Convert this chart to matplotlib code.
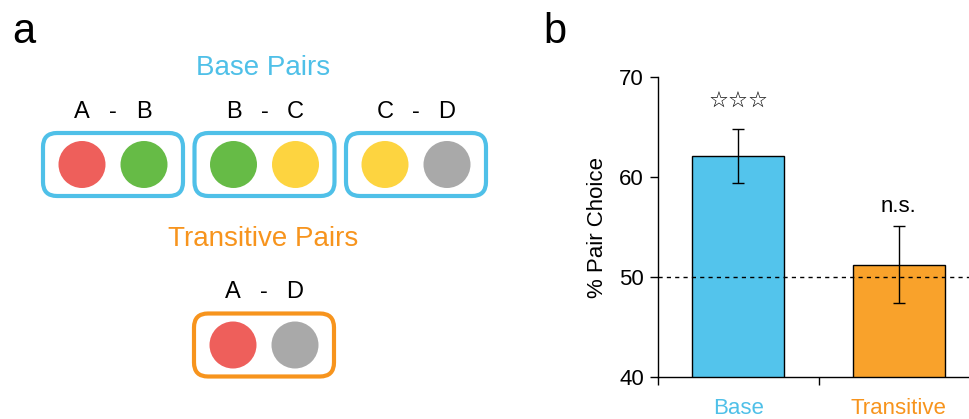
import matplotlib
matplotlib.use("Agg")
import matplotlib.pyplot as plt
from matplotlib.patches import Circle, FancyBboxPatch

plt.rcParams["font.family"] = ["Liberation Sans", "DejaVu Sans"]

# ---- data ----
categories = ["Base", "Transitive"]
means = [62.1, 51.2]
errors = [2.7, 3.85]
annotations = ["\u2606\u2606\u2606", "n.s."]
chance = 50
yticks = [40, 50, 60, 70]

base_pairs = [("A", "B"), ("B", "C"), ("C", "D")]
transitive_pairs = [("A", "D")]
item_colors = {"A": "#EE5F5B", "B": "#66BB46", "C": "#FDD440", "D": "#A9A9A9"}

BLUE = "#4FC0E8"
ORANGE = "#F7941D"
BAR_COLORS = ["#53C4EC", "#F9A22B"]
LABEL_COLORS = [BLUE, ORANGE]

W, H = 969, 419
fig = plt.figure(figsize=(W / 100, H / 100), dpi=100)

# ---- panel a (pixel coordinates) ----
axa = fig.add_axes([0, 0, 1, 1])
axa.set_xlim(0, W)
axa.set_ylim(H, 0)
axa.axis("off")

fig.text(12 / W, 1 - 32 / H, "a", fontsize=30, va="center", ha="left")
fig.text(543 / W, 1 - 32 / H, "b", fontsize=30, va="center", ha="left")

def draw_pair(ax, cx, cy, pair, edge):
    bw, bh = 140, 63
    box = FancyBboxPatch((cx - bw / 2 + 8, cy - bh / 2 + 8), bw - 16, bh - 16,
                         boxstyle="round,pad=8,rounding_size=14",
                         fc="none", ec=edge, lw=3)
    ax.add_patch(box)
    for i, item in enumerate(pair):
        x = cx - 31 + 62 * i
        ax.add_patch(Circle((x, cy), 23.5, fc=item_colors[item], ec="none"))
        ax.text(x, cy - 53, item, fontsize=17, ha="center", va="center")
    ax.text(cx, cy - 53, "-", fontsize=17, ha="center", va="center")

axa.text(263, 68, "Base Pairs", color=BLUE, fontsize=20, ha="center",
         va="center")
for k, p in enumerate(base_pairs):
    draw_pair(axa, 113 + 151.5 * k, 164.5, p, BLUE)
axa.text(263, 239, "Transitive Pairs", color=ORANGE, fontsize=20,
         ha="center", va="center")
for k, p in enumerate(transitive_pairs):
    draw_pair(axa, 264, 345, p, ORANGE)

# ---- panel b ----
left, right, top, bottom = 658, 969, 77, 377
axb = fig.add_axes([left / W, 1 - bottom / H, (right - left) / W, (bottom - top) / H])
x = list(range(len(categories)))
axb.bar(x, means, width=0.575, color=BAR_COLORS, edgecolor="black", lw=1,
        zorder=2)
axb.errorbar(x, means, yerr=errors, fmt="none", ecolor="black", elinewidth=1,
             capsize=4, capthick=1, zorder=3)
axb.axhline(chance, color="black", lw=1, ls=(0, (3, 3)), zorder=4)
axb.set_xlim(-0.5, (right - 739) / 160)
axb.set_ylim(yticks[0], yticks[-1])
axb.set_yticks(yticks)
axb.set_yticklabels([str(t) for t in yticks], fontsize=16)
axb.set_xticks([-0.5, 0.5])
axb.set_xticklabels([])
axb.set_xticks(x, minor=True)
axb.set_xticklabels(categories, minor=True, fontsize=16)
for lbl, c in zip(axb.get_xticklabels(minor=True), LABEL_COLORS):
    lbl.set_color(c)
axb.tick_params(axis="x", which="major", direction="out", length=6, width=1)
axb.tick_params(axis="x", which="minor", length=0, pad=15)
axb.tick_params(axis="y", direction="out", length=6, width=1, pad=4)
for s in ["top", "right"]:
    axb.spines[s].set_visible(False)
for s in ["left", "bottom"]:
    axb.spines[s].set_linewidth(1)
axb.set_ylabel("% Pair Choice", fontsize=16, labelpad=8)

axb.text(0, 67.5, annotations[0], fontsize=16, ha="center", va="center",
         family=["DejaVu Sans"])
axb.text(1, 57.1, annotations[1], fontsize=16, ha="center", va="center")

fig.savefig("out.png", dpi=100)
